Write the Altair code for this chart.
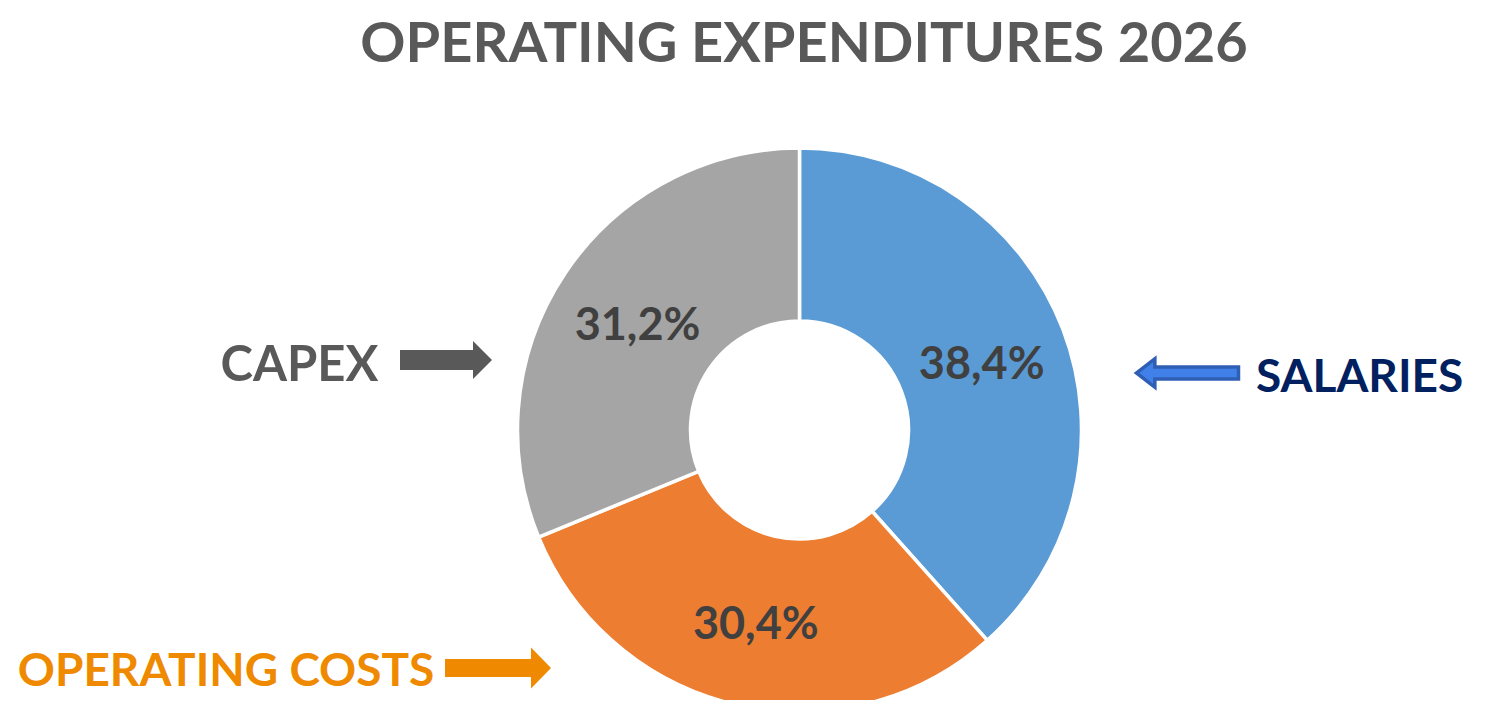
import altair as alt
import pandas as pd

categories = ["SALARIES", "OPERATING COSTS", "CAPEX"]
shares = [38.4, 30.4, 31.2]
share_labels = ["38,4%", "30,4%", "31,2%"]
slice_colors = ["#5B9BD5", "#ED7D31", "#A5A5A5"]
title_text = "OPERATING EXPENDITURES 2026"

df = pd.DataFrame({
    "category": categories,
    "share": shares,
    "label": share_labels,
    "idx": list(range(len(categories))),
})

CX, CY = 791.5, 422
FONT = "Lato"

base = alt.Chart(df).encode(
    theta=alt.Theta("share:Q", stack=True),
    order=alt.Order("idx:Q"),
    x=alt.value(CX),
    y=alt.value(CY),
)

arcs = base.mark_arc(innerRadius=109, outerRadius=282, stroke="white", strokeWidth=3.5).encode(
    color=alt.Color("category:N", scale=alt.Scale(domain=categories, range=slice_colors), legend=None)
)

pct = base.mark_text(radius=195, dy=5, fontSize=45, fontWeight="bold", color="#404040", font=FONT).encode(
    text="label:N"
)

one = pd.DataFrame({"k": [0]})

def label(text, x, y, color, size, align="center"):
    return alt.Chart(one).mark_text(
        text=text, font=FONT, fontWeight="bold", fontSize=size, color=color,
        align=align, baseline="alphabetic"
    ).encode(x=alt.value(x), y=alt.value(y))

def arrow(path, x, y, size, fill, stroke=None, sw=0):
    kw = dict(shape=path, filled=True, fill=fill, opacity=1, fillOpacity=1, size=size)
    if stroke:
        kw.update(stroke=stroke, strokeWidth=sw)
    else:
        kw.update(strokeWidth=0)
    return alt.Chart(one).mark_point(**kw).encode(x=alt.value(x), y=alt.value(y))

right_capex = "M-1,-0.217 L0.587,-0.217 L0.587,-0.413 L1,0 L0.587,0.413 L0.587,0.217 L-1,0.217 Z"
left_sal = "M1,-0.12 L-0.64,-0.12 L-0.64,-0.28 L-1,0 L-0.64,0.28 L-0.64,0.12 L1,0.12 Z"
right_op = "M-1,-0.17 L0.623,-0.17 L0.623,-0.387 L1,0 L0.623,0.387 L0.623,0.17 L-1,0.17 Z"

title = label(title_text, 796, 54, "#595959", 56)
capex_t = label("CAPEX", 291.5, 373, "#595959", 49)
sal_t = label("SALARIES", 1248, 384, "#002060", 46, align="left")
op_t = label("OPERATING COSTS", 218, 678, "#EF8A00", 46)

a1 = arrow(right_capex, 438, 352, 92 * 92, "#595959")
a2 = arrow(left_sal, 1179.5, 365, 102 * 102, "#4080E8", "#2F5FB5", 3.5)
a3 = arrow(right_op, 490, 660, 106 * 106, "#EF8A00")

chart = alt.layer(arcs, pct, title, capex_t, sal_t, op_t, a1, a2, a3).properties(
    width=1470, height=692, padding=0,
    autosize=alt.AutoSizeParams(type="fit", contains="padding"),
).configure_view(strokeWidth=0)

chart.save("out.html", embed_options={"renderer": "svg", "actions": False})
